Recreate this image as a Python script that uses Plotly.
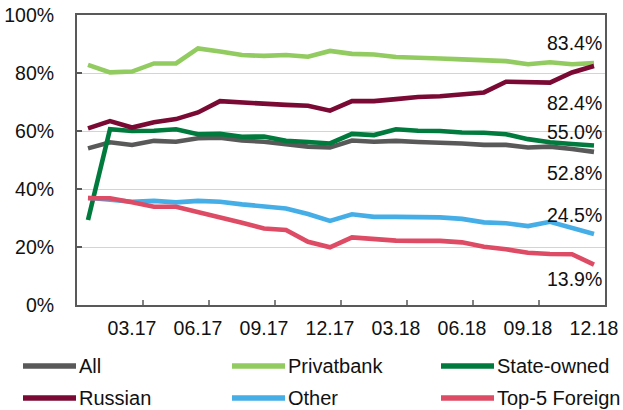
import plotly.graph_objects as go

months = ["01.17", "02.17", "03.17", "04.17", "05.17", "06.17", "07.17", "08.17",
          "09.17", "10.17", "11.17", "12.17", "01.18", "02.18", "03.18", "04.18",
          "05.18", "06.18", "07.18", "08.18", "09.18", "10.18", "11.18", "12.18"]
tick_labels = ["03.17", "06.17", "09.17", "12.17", "03.18", "06.18", "09.18", "12.18"]
y_tick_vals = [0, 20, 40, 60, 80, 100]
y_tick_text = ["0%", "20%", "40%", "60%", "80%", "100%"]

all_banks = [54.0, 56.1, 55.2, 56.6, 56.3, 57.5, 57.7, 56.7, 56.3, 55.4, 54.6, 54.3,
             56.7, 56.3, 56.6, 56.2, 56.1, 55.7, 55.2, 55.2, 54.3, 54.6, 53.8, 52.8]
privatbank = [82.8, 80.2, 80.5, 83.3, 83.3, 88.5, 87.4, 86.2, 85.9, 86.2, 85.6, 87.6,
              86.6, 86.4, 85.5, 85.1, 85.0, 84.7, 84.5, 84.1, 83.0, 83.7, 83.0, 83.4]
state_owned = [29.3, 60.6, 60.0, 60.1, 60.6, 58.9, 59.0, 58.0, 58.1, 56.6, 56.2, 55.7,
               59.0, 58.6, 60.6, 60.1, 60.0, 59.5, 59.4, 58.9, 57.2, 56.1, 55.5, 55.0]
russian = [60.9, 63.4, 61.2, 63.0, 64.1, 66.4, 70.3, 69.8, 69.5, 69.0, 68.7, 67.0,
           70.3, 70.3, 71.0, 71.7, 72.0, 72.8, 73.3, 77.0, 76.9, 76.7, 80.2, 82.4]
other = [37.0, 36.4, 35.6, 35.9, 35.4, 35.9, 35.6, 34.7, 34.1, 33.3, 31.4, 29.0,
         31.3, 30.4, 30.4, 30.4, 30.2, 29.7, 28.5, 28.2, 27.2, 28.7, 26.7, 24.5]
top5_foreign = [36.8, 36.8, 35.4, 33.9, 33.9, 32.2, 30.4, 28.4, 26.4, 25.9, 21.8, 19.9,
                23.3, 22.8, 22.2, 22.1, 22.1, 21.6, 20.1, 19.2, 18.0, 17.6, 17.5, 13.9]

series_names = ["All", "Privatbank", "State-owned", "Russian", "Other", "Top-5 Foreign"]
series_values = [all_banks, privatbank, state_owned, russian, other, top5_foreign]
colors = ["#595959", "#92CB60", "#007A3D", "#7A0A33", "#45AEE6", "#DD4B64"]

end_labels = ["52.8%", "83.4%", "55.0%", "82.4%", "24.5%", "13.9%"]
end_label_y = [45.5, 90.3, 59.7, 69.7, 31.0, 8.8]

W, H = 623, 410
L, R, T, B = 77, 18, 15, 105
PW, PH = W - L - R, H - T - B
FONT = "Arial, Liberation Sans, sans-serif"
AX = "#595959"

def px_x(px):
    return (px - L) / PW

def px_y(py):
    return (H - B - py) / PH

fig = go.Figure()
for name, vals, col in zip(series_names, series_values, colors):
    fig.add_trace(go.Scatter(x=months, y=vals, mode="lines", name=name,
                             line=dict(color=col, width=4.6), showlegend=False))

shapes = []
# inward tick marks between label groups on the category axis
for k in range(1, 8):
    xv = 3 * k - 0.5
    shapes.append(dict(type="line", xref="x", yref="paper", x0=xv, x1=xv,
                       y0=0, y1=5 / PH, line=dict(color=AX, width=1.5)))

annotations = []
for txt, yv in zip(end_labels, end_label_y):
    annotations.append(dict(x=23.45, y=yv, xref="x", yref="y", text=txt,
                            showarrow=False, xanchor="right", yanchor="middle",
                            font=dict(family=FONT, size=19.5, color="#111111")))

# custom legend
leg_pos = [(23, 366), (232, 366), (441, 366), (23, 398), (232, 398), (441, 398)]
for (lx, ly), name, col in zip(leg_pos, series_names, colors):
    shapes.append(dict(type="line", xref="paper", yref="paper",
                       x0=px_x(lx), x1=px_x(lx + 53), y0=px_y(ly), y1=px_y(ly),
                       line=dict(color=col, width=5.5)))
    annotations.append(dict(x=px_x(lx + 54), y=px_y(ly), xref="paper", yref="paper",
                            text=name, showarrow=False, xanchor="left", yanchor="middle",
                            font=dict(family=FONT, size=20, color="#111111")))

fig.update_layout(
    width=W, height=H,
    margin=dict(l=L, r=R, t=T, b=B, pad=0, autoexpand=False),
    paper_bgcolor="white", plot_bgcolor="white",
    font=dict(family=FONT, size=19, color="#111111"),
    shapes=shapes, annotations=annotations,
    xaxis=dict(type="category", range=[-0.5, 23.5], tickmode="array",
               tickvals=tick_labels, ticktext=tick_labels, ticks="",
               showgrid=False, showline=True, linecolor=AX, linewidth=2,
               mirror=True, ticklabelstandoff=5, zeroline=False, automargin=False,
               tickfont=dict(family=FONT, size=19.5, color="#111111")),
    yaxis=dict(range=[0, 100], tickmode="array", tickvals=y_tick_vals,
               ticktext=y_tick_text, ticks="inside",
               ticklen=5, tickwidth=1.5, automargin=False,
               tickcolor=AX, showgrid=True, gridcolor="#D4D4D4", gridwidth=1.2,
               showline=True, linecolor=AX, linewidth=2, mirror=True,
               zeroline=False, ticklabelstandoff=17,
               tickfont=dict(family=FONT, size=19.5, color="#111111")),
)

fig.write_html("out.html")
